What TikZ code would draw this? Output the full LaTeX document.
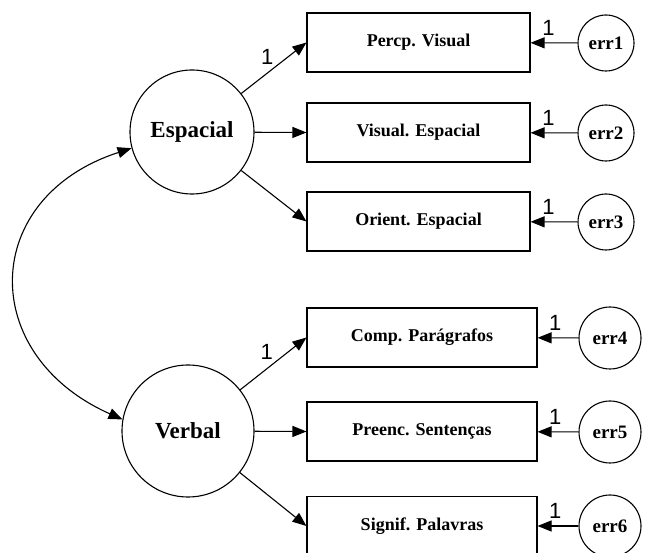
\documentclass[tikz,border=0pt]{standalone}
\usepackage{fontspec}
\setmainfont{Liberation Serif}
\setsansfont{Liberation Sans}
\usetikzlibrary{arrows.meta}

\begin{document}
\begin{tikzpicture}[x=1pt, y=1pt, line width=1.1pt,
  latent/.style={draw, circle, minimum size=124pt, inner sep=0pt,
    font=\bfseries\fontsize{23}{25}\selectfont},
  obs/.style={draw, rectangle, minimum width=223pt, minimum height=59pt,
    font=\bfseries\fontsize{18}{20}\selectfont},
  errc/.style={draw, circle, minimum size=56pt, inner sep=0pt,
    font=\bfseries\fontsize{19}{21}\selectfont},
  load/.style={-{Triangle[length=14pt,width=11pt]}},
  cov/.style={{Triangle[length=14pt,width=11pt]}-{Triangle[length=14pt,width=11pt]}},
  one/.style={font=\sffamily\fontsize{22}{24}\selectfont, inner sep=1pt}]
\clip (0,0) rectangle (649,-553);
% latent factors
\node[latent] (esp) at (192,-132) {Espacial};
\node[latent, minimum size=132pt] (verb) at (188,-431) {Verbal};
% observed
\node[obs] (pv) at (418.5,-42.5) {Percp. Visual};
\node[obs] (ve) at (418.5,-132.5) {Visual. Espacial};
\node[obs] (oe) at (418.5,-221.5) {Orient. Espacial};
\node[obs, minimum width=230pt] (cp) at (422,-337.5) {Comp. Parágrafos};
\node[obs, minimum width=230pt] (ps) at (422,-431.5) {Preenc. Sentenças};
\node[obs, minimum width=230pt] (sp) at (422,-526) {Signif. Palavras};
% errors
\node[errc] (e1) at (606,-43) {err1};
\node[errc] (e2) at (606,-133) {err2};
\node[errc] (e3) at (606,-222) {err3};
\node[errc, minimum size=62pt] (e4) at (610,-338) {err4};
\node[errc, minimum size=62pt] (e5) at (610,-432) {err5};
\node[errc, minimum size=62pt] (e6) at (610,-526) {err6};
% loadings
\draw[load] (esp) -- node[one, pos=.4, above=7pt] (w1) {1} (pv.west);
\draw[load] (esp) -- (ve.west);
\draw[load] (esp) -- (oe.west);
\draw[load] (verb) -- node[one, pos=.4, above=8pt] (w4) {1} (cp.west);
\draw[load] (verb) -- (ps.west);
\draw[load] (verb) -- (sp.west);
% error paths
\draw[load] (e1) -- node[one, pos=.62, above=6pt] (f1) {1} (pv);
\draw[load] (e2) -- node[one, pos=.62, above=6pt] (f2) {1} (ve);
\draw[load] (e3) -- node[one, pos=.62, above=6pt] (f3) {1} (oe);
\draw[load] (e4) -- node[one, pos=.57, above=6pt] (f4) {1} (cp);
\draw[load] (e5) -- node[one, pos=.57, above=6pt] (f5) {1} (ps);
\draw[load] (e6) -- node[one, pos=.57, above=6pt] (f6) {1} (sp);
% covariance
\draw[cov] (esp.195) to[out=198, in=156, looseness=1.5] (verb.170);
\end{tikzpicture}
\end{document}
